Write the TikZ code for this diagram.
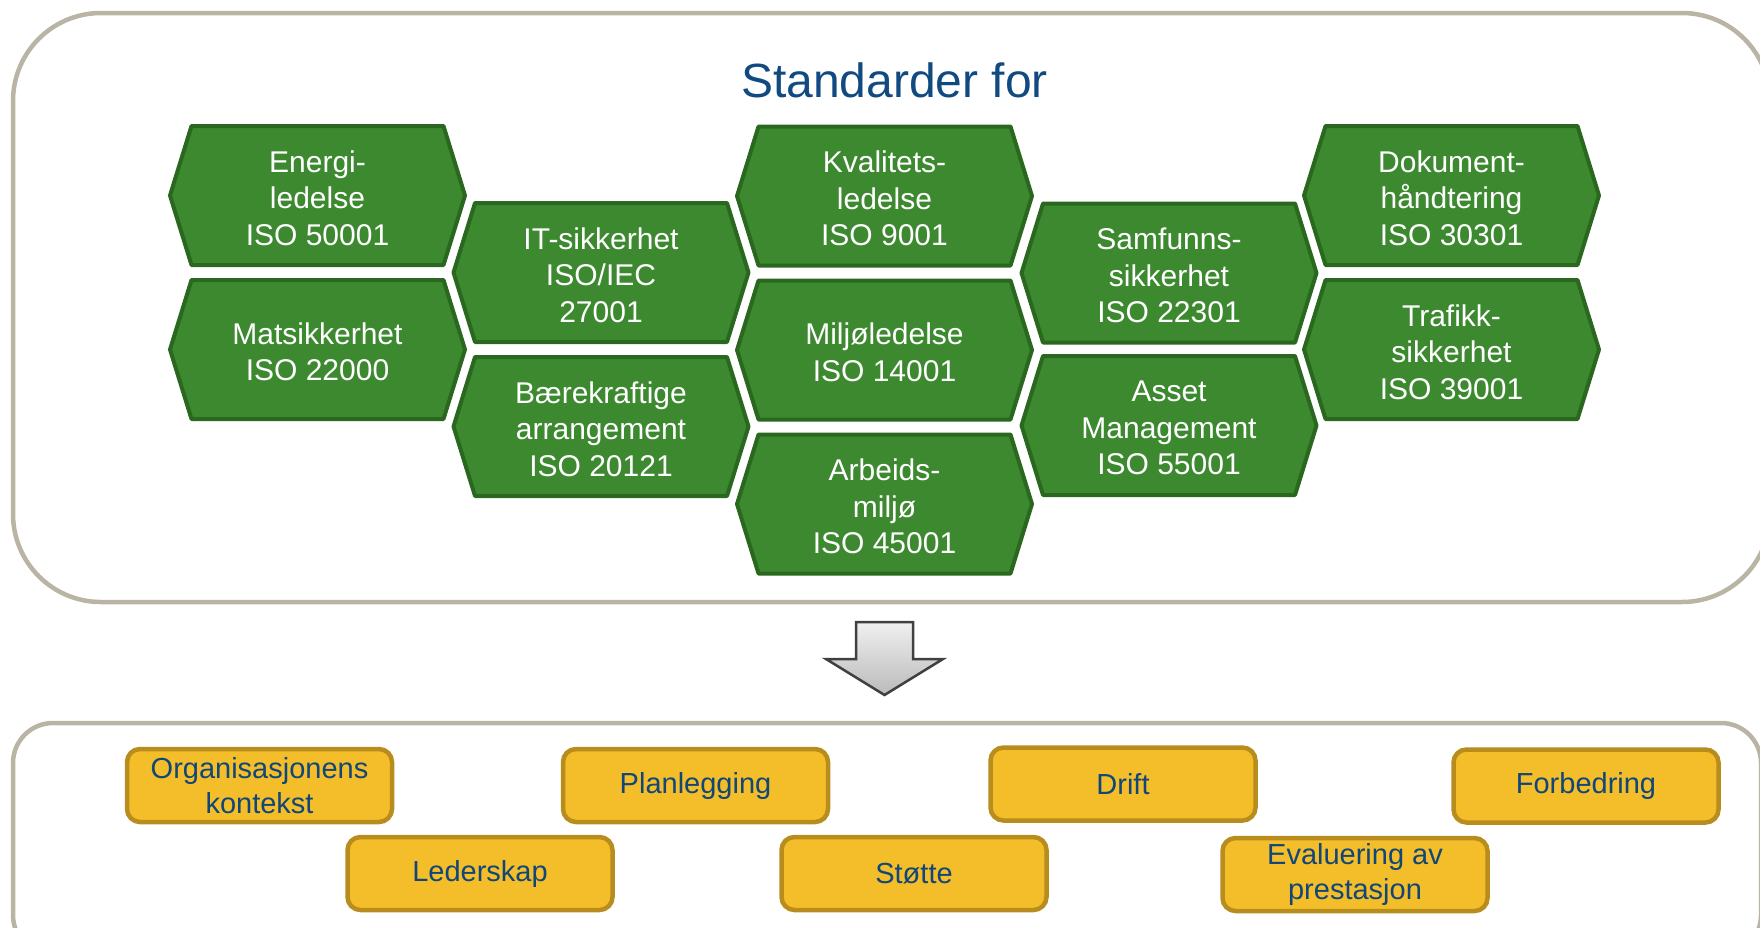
\documentclass[tikz,border=0pt]{standalone}
\usepackage{fontspec}
\setmainfont{Liberation Sans}
\usepackage{xcolor}
\usepackage{tikz}
\definecolor{hexgreen}{RGB}{61,137,48}
\definecolor{hexedge}{RGB}{42,104,31}
\definecolor{titleblue}{RGB}{16,74,128}
\definecolor{boxgold}{RGB}{244,190,42}
\definecolor{boxedge}{RGB}{184,141,30}
\definecolor{boxblue}{RGB}{17,70,120}
\definecolor{framegray}{RGB}{186,180,164}
% hexagon with a named text node in the middle
\newcommand{\stdhex}[4]{%
  \draw[hexa] (#2,#3) ++(-147.5,0) -- ++(21.5,-69.5) -- ++(252,0) -- ++(21.5,69.5)
    -- ++(-21.5,69.5) -- ++(-252,0) -- cycle;
  \node[hextext] (#1) at (#2,#3) {#4};
}

\begin{document}
\begin{tikzpicture}[x=1pt,y=-1pt,
                    frame/.style={line width=4.5pt, framegray},
                    hexa/.style={line width=4pt, draw=hexedge, fill=hexgreen, line join=round},
                    hextext/.style={inner sep=0pt, align=center, white, yshift=-2.5pt, font=\fontsize{30}{36.5}\selectfont},
                    clause/.style={draw=boxedge, fill=boxgold, line width=4.5pt, rounded corners=13pt,
                                   minimum width=265pt, minimum height=73pt, inner sep=0pt, align=center,
                                   text=boxblue, font=\fontsize{29}{34.5}\selectfont},
                    bigarrow/.style={draw=black!75, line width=2.5pt, line join=miter, top color=black!6, bottom color=black!27},
                   ]

\useasboundingbox (0,0) rectangle (1760,927);
\clip (0,0) rectangle (1760,927);

% frames
\draw[frame, rounded corners=88pt] (13,13) rectangle (1770,602);
\draw[frame, rounded corners=40pt] (13,723) rectangle (1761,955);

\node[anchor=base, titleblue, font=\fontsize{48}{56}\selectfont] (title) at (894.5,97) {Standarder for};

% standards
\stdhex{energi}{317.5}{195.5}{Energi-\\ledelse\\ISO 50001}
\stdhex{mat}{317.5}{349.5}{Matsikkerhet\\ISO 22000}
\stdhex{it}{601}{272.5}{IT-sikkerhet\\ISO/IEC\\27001}
\stdhex{baere}{601}{426.5}{Bærekraftige\\arrangement\\ISO 20121}
\stdhex{kval}{884.5}{196}{Kvalitets-\\ledelse\\ISO 9001}
\stdhex{milj}{884.5}{350}{Miljøledelse\\ISO 14001}
\stdhex{arb}{884.5}{504}{Arbeids-\\miljø\\ISO 45001}
\stdhex{samf}{1169}{273}{Samfunns-\\sikkerhet\\ISO 22301}
\stdhex{asset}{1169}{425.5}{Asset\\Management\\ISO 55001}
\stdhex{dok}{1451.5}{195.5}{Dokument-\\håndtering\\ISO 30301}
\stdhex{traf}{1451.5}{349.5}{Trafikk-\\sikkerhet\\ISO 39001}

% arrow
\draw[bigarrow] (856,622) -- (913,622) -- (913,659) -- (943,659) -- (884.5,695)
  -- (826,659) -- (856,659) -- cycle;

% high level structure
\node[clause] (org)    at (259.5,785.5) {Organisasjonens\\kontekst};
\node[clause] (plan)   at (695.5,785.5) {Planlegging};
\node[clause] (drift)  at (1123,784)    {Drift};
\node[clause] (forb)   at (1586,786)    {Forbedring};
\node[clause] (led)    at (480,873.5)   {Lederskap};
\node[clause] (stotte) at (914,873.5)   {Støtte};
\node[clause] (eval)   at (1355,874.5)  {Evaluering av\\prestasjon};

\end{tikzpicture}
\end{document}
